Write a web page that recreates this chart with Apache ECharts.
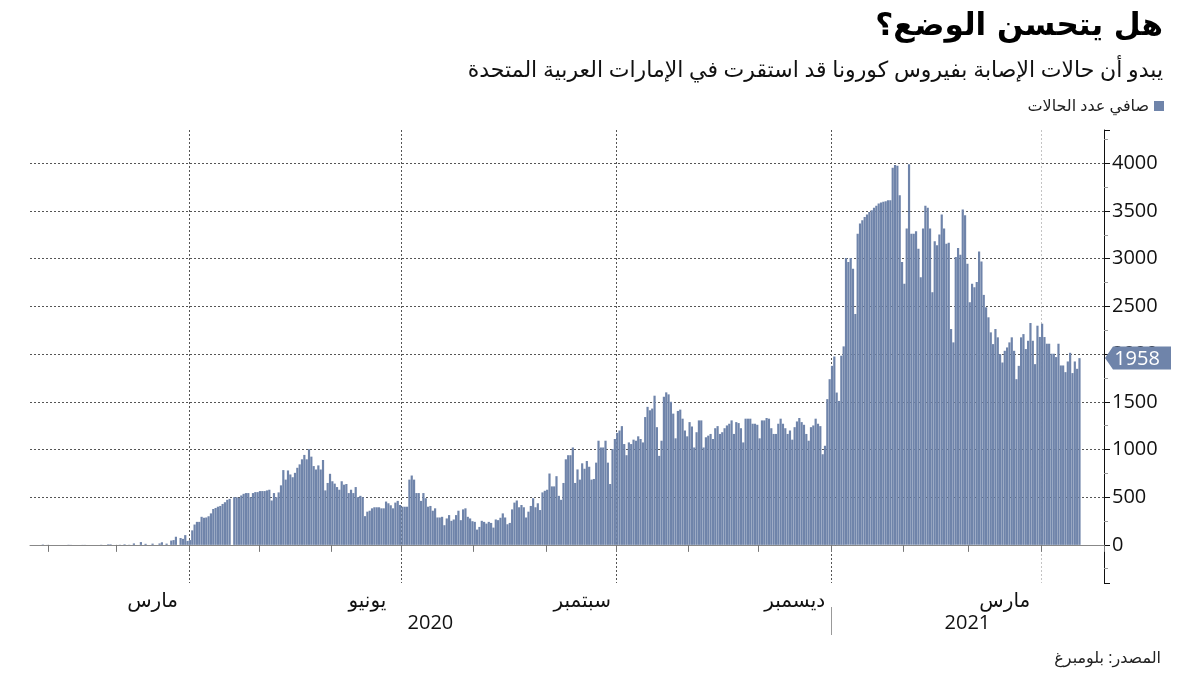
<!DOCTYPE html>
<html><head><meta charset="utf-8">
<script src="https://cdn.jsdelivr.net/npm/echarts@6/dist/echarts.min.js"></script>
<style>html,body{margin:0;padding:0;background:#fff}#c{width:1200px;height:675px}</style>
</head><body><div id="c"></div>
<script>
// ---- axis range (categories are days) ----
const startDate = [2020, 0, 24];
const endDate = [2021, 3, 27];

// ---- daily net new cases ----
const jan2020 = [0,0,0,0,0,4,0,1]; // from Jan 24
const feb2020 = [0,0,0,0,0,0,0,0,2,1,0,0,0,0,1,1,0,0,0,0,0,0,2,0,0,6,6,0,0];
const mar2020 = [0,2,0,6,0,2,0,15,0,0,29,0,11,0,0,13,0,0,15,27,0,13,0,45,50,85,0,72,63,102,41];
const apr2020 = [50,152,213,241,241,294,284,287,300,330,376,387,400,408,429,447,472,482,null,500,500,493,518,535,543,543,500,543,553,553];
const may2020 = [564,564,564,571,578,465,543,500,550,624,784,684,780,738,709,755,808,844,897,943,897,1003,925,826,790,833,790,890,571,649,745];
const jun2020 = [667,642,606,578,667,631,638,543,578,543,606,500,514,500,301,348,358,383,394,394,394,383,383,454,436,415,383,443,461,418];
const jul2020 = [400,400,400,684,727,684,543,543,461,543,489,400,408,358,383,287,287,294,206,277,312,252,266,312,358,259,372,383,294,277,248];
const aug2020 = [241,160,188,252,241,223,241,230,181,266,259,284,330,287,216,230,372,443,465,394,418,394,287,348,408,489,394,436,365,550,567];
const sep2020 = [578,748,613,613,720,514,472,649,897,940,940,1021,649,791,684,855,798,879,819,684,691,862,1092,1021,1021,1092,862,638,1004,1110];
const oct2020 = [1174,1199,1245,1057,940,1074,1057,1103,1092,1138,1110,1074,1340,1447,1411,1429,1564,1234,933,1092,1553,1599,1578,1500,1376,1117,1404,1418,1323,1199,1138];
const nov2020 = [1287,1241,1021,1181,1305,1305,1021,1128,1145,1163,1110,1223,1245,1163,1181,1223,1252,1270,1305,1163,1287,1277,1223,1074,1323,1323,1323,1270,1270,1259];
const dec2020 = [1117,1305,1305,1330,1323,1223,1163,1163,1270,1323,1270,1223,1163,1199,1103,1234,1294,1330,1287,1259,1163,1092,1234,1252,1323,1270,1245,950,1039,1528,1737];
const jan2021 = [1877,1975,1597,1509,1983,2081,3007,2965,3007,2895,2421,3263,3369,3404,3439,3463,3491,3509,3534,3555,3579,3590,3597,3604,3614,3614,3955,3983,3976,3667,2965];
const feb2021 = [2737,3316,3990,3263,3263,3288,3105,2807,3316,3555,3534,3316,2649,3183,3141,3253,3463,3316,3158,3169,2263,2123,3018,3113,3042,3516,3457,2948];
const mar2021 = [2544,2737,2702,2755,3077,2972,2621,2491,2386,2228,2105,2263,2176,2000,1912,2035,2070,2123,2176,2035,1737,1877,2176,2210,2053,2140,2326,2140,1895,2298,2180];
const apr2021 = [2319,2179,2109,2109,2004,2004,1969,2109,1881,1881,1811,1923,2014,1801,1923,1846,1958];

// ---- text ----
const titleText = 'هل يتحسن الوضع؟\u200F';
const subtitleText = 'يبدو أن حالات الإصابة بفيروس كورونا قد استقرت في الإمارات العربية المتحدة';
const seriesName = 'صافي عدد الحالات';
const sourceText = 'المصدر: بلومبرغ';
const monthLabels = {'2020-03-16':'مارس','2020-06-16':'يونيو','2020-09-16':'سبتمبر','2020-12-16':'ديسمبر','2021-03-16':'مارس'};
const gridDates = ['2020-04-01','2020-07-01','2020-10-01','2021-01-01','2021-04-01'];
const yearBreak = '2021-01-01';

// ---- build categories ----
const dates = [];
for (let t = Date.UTC(...startDate); t <= Date.UTC(...endDate); t += 86400000) {
  dates.push(new Date(t).toISOString().slice(0,10));
}
const values = [].concat(jan2020,feb2020,mar2020,apr2020,may2020,jun2020,jul2020,aug2020,sep2020,oct2020,nov2020,dec2020,jan2021,feb2021,mar2021,apr2021);
while (values.length < dates.length) values.push(null);

// year label positions: middle category of each year's span on the axis
const yearMid = {};
const years = [...new Set(dates.map(d=>d.slice(0,4)))];
years.forEach(y => {
  const idx = dates.map((d,i)=>d.startsWith(y)?i:-1).filter(i=>i>=0);
  yearMid[Math.floor((idx[0]+idx[idx.length-1])/2)] = y;
});

const barColor = '#6f84aa';
const FONT = '"Open Sans", "DejaVu Sans", sans-serif';

const chart = echarts.init(document.getElementById('c'), null, {renderer:'canvas'});
const option = {
  animation:false,
  textStyle:{fontFamily:FONT},
  title:[
    {text:titleText, right:32, top:6, textStyle:{fontFamily:'"DejaVu Sans", sans-serif', fontWeight:'bold', fontSize:31, color:'#000'}},
    {text:subtitleText, right:32, top:55, textStyle:{fontFamily:FONT, fontWeight:'normal', fontSize:22, color:'#111'}},
    {text:sourceText, right:34, top:645, textStyle:{fontFamily:FONT, fontWeight:'normal', fontSize:16, color:'#222'}}
  ],
  legend:{right:31, top:93, align:'right', icon:'rect', itemWidth:10, itemHeight:10,
    textStyle:{fontSize:16, color:'#222'}, data:[seriesName]},
  grid:{left:30, right:96, top:130, bottom:92},
  xAxis:[
    {type:'category', data:dates, boundaryGap:true,
     axisLine:{show:true, lineStyle:{color:'#888', width:1}},
     axisTick:{show:true, inside:false, interval:(i,v)=>String(v).slice(8,10)==='01', length:7, lineStyle:{color:'#777', width:1}},
     axisLabel:{interval:(i,v)=>v in monthLabels, formatter:v=>monthLabels[v]||'', fontSize:20, color:'#111', margin:8},
     splitLine:{show:true, interval:(i,v)=>gridDates.includes(v),
       lineStyle:{type:[2,2], color:['#555','#555','#555','#555','#c4c4c4','#555']}}},
    {type:'category', data:dates, boundaryGap:true, position:'bottom', offset:24,
     axisLine:{show:false},
     axisTick:{show:false},
     axisLabel:{interval:(i)=>i in yearMid, formatter:(v)=>v.slice(0,4), fontSize:20, color:'#111', margin:6},
     splitLine:{show:false}}
  ],
  yAxis:{type:'value', position:'right', min:-400, max:4350, splitNumber:10, minInterval:500, maxInterval:500,
    axisLine:{show:true, lineStyle:{color:'#111'}},
    axisTick:{show:true, length:6, lineStyle:{color:'#111'}},
    minorTick:{show:true, splitNumber:2, length:4, lineStyle:{color:'#999'}},
    axisLabel:{showMinLabel:false, showMaxLabel:false, fontSize:20, color:'#111', margin:8, formatter:v=>String(v)},
    splitLine:{show:true, showMinLine:false, showMaxLine:false, lineStyle:{type:[2,2], color:'#555'}}},
  series:[{type:'bar', name:seriesName, data:values, barCategoryGap:'6%', itemStyle:{color:barColor}}]
};
chart.setOption(option);

// axis decorations: year separator below the axis and last-value tag on the y axis
const px0 = chart.convertToPixel({xAxisIndex:0}, dates[0]);
const px1 = chart.convertToPixel({xAxisIndex:0}, dates[1]);
const half = (px1 - px0)/2;
const sepX = Math.round(chart.convertToPixel({xAxisIndex:0}, yearBreak) - half) + 0.5;
const axisY = chart.convertToPixel({yAxisIndex:0}, -400);
const lastVal = values.filter(v=>v!=null).pop();
const tagY = chart.convertToPixel({yAxisIndex:0}, lastVal);
const axisX = chart.convertToPixel({xAxisIndex:0}, dates[dates.length-1]) + half;
chart.setOption({graphic:[
  {type:'line', z:100, shape:{x1:sepX, y1:axisY+24, x2:sepX, y2:axisY+52}, style:{stroke:'#999', lineWidth:1}},
  {type:'polygon', z:100, x:axisX+1, y:tagY, shape:{points:[[0,0],[8,-11.5],[66,-11.5],[66,11.5],[8,11.5]]}, style:{fill:'#6f84aa'}},
  {type:'text', z:101, x:axisX+33, y:tagY+1, style:{text:String(lastVal), fill:'#fff', font:'20px "Open Sans", sans-serif', align:'center', verticalAlign:'middle'}}
]});
</script></body></html>
